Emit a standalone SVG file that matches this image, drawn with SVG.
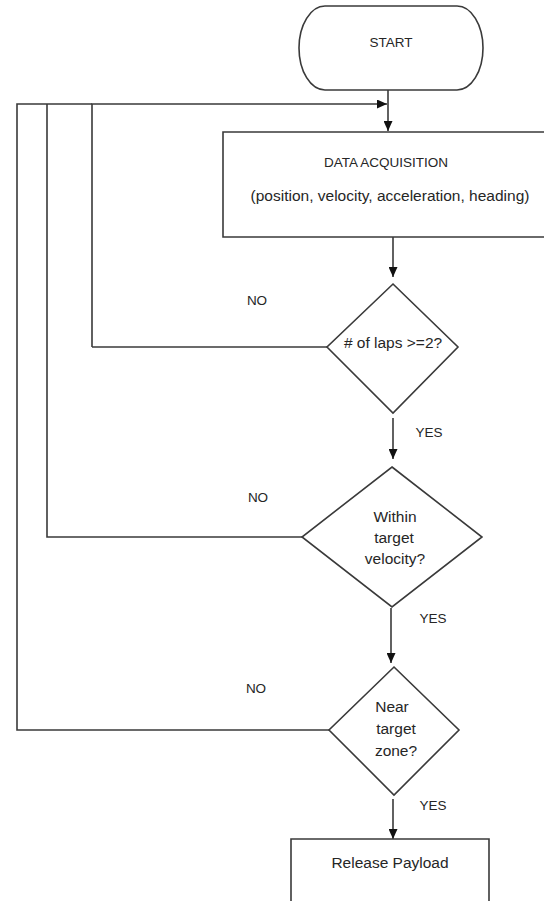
<svg xmlns="http://www.w3.org/2000/svg" width="544" height="901" viewBox="0 0 544 901">
<style>
.shape{fill:#fff;stroke:#3a3a3a;stroke-width:1.6}
.line{fill:none;stroke:#3a3a3a;stroke-width:1.6}
.t{font-family:"Liberation Sans",Arial,sans-serif;fill:#262626;text-anchor:middle}
.lc{font-size:15.5px}
.uc{font-size:13.5px}
</style>
<defs>
<marker id="arr" markerUnits="userSpaceOnUse" markerWidth="11" markerHeight="9" refX="10" refY="4.5" orient="auto">
<path d="M0,0 L10,4.5 L0,9 z" fill="#111"/>
</marker>
</defs>
<rect width="544" height="901" fill="#fff"/>
<g id="connectors">
<line class="line" x1="388" y1="90" x2="388" y2="131" marker-end="url(#arr)"/>
<polyline class="line" points="92,347 92,104 387,104" marker-end="url(#arr)"/>
<polyline class="line" points="327,347 92,347"/>
<polyline class="line" points="302,537 47,537 47,104"/>
<polyline class="line" points="329,730 17,730 17,104 92,104"/>
<line class="line" x1="393" y1="237" x2="393" y2="277" marker-end="url(#arr)"/>
<line class="line" x1="393" y1="418" x2="393" y2="459" marker-end="url(#arr)"/>
<line class="line" x1="391" y1="608" x2="391" y2="663" marker-end="url(#arr)"/>
<line class="line" x1="393" y1="799" x2="393" y2="839" marker-end="url(#arr)"/>
<text class="t uc" x="257" y="305">NO</text>
<text class="t uc" x="258" y="502">NO</text>
<text class="t uc" x="256" y="693">NO</text>
<text class="t uc" x="429" y="437">YES</text>
<text class="t uc" x="433" y="623">YES</text>
<text class="t uc" x="433" y="810">YES</text>
</g>
<g id="start">
<rect class="shape" x="299" y="6" width="184" height="84" rx="26" ry="42"/>
<text class="t uc" x="391" y="47">START</text>
</g>
<g id="data-acquisition">
<path class="shape" d="M548,132 L223,132 L223,237 L548,237"/>
<text class="t uc" x="386" y="167">DATA ACQUISITION</text>
<text class="t lc" x="390" y="201">(position, velocity, acceleration, heading)</text>
</g>
<g id="laps">
<polygon class="shape" points="393,284 458,347 393,413 327,347"/>
<text class="t lc" x="393" y="348"># of laps &gt;=2?</text>
</g>
<g id="velocity">
<polygon class="shape" points="392,467 482,537 392,607 302,537"/>
<text class="t lc" x="395" y="522">Within</text>
<text class="t lc" x="394" y="543">target</text>
<text class="t lc" x="395" y="564">velocity?</text>
</g>
<g id="zone">
<polygon class="shape" points="394,667 459,730 394,795 329,730"/>
<text class="t lc" x="392" y="712">Near</text>
<text class="t lc" x="396" y="734">target</text>
<text class="t lc" x="396" y="756">zone?</text>
</g>
<g id="release">
<path class="shape" d="M291,905 L291,839 L489,839 L489,905"/>
<text class="t lc" x="390" y="868">Release Payload</text>
</g>
</svg>
